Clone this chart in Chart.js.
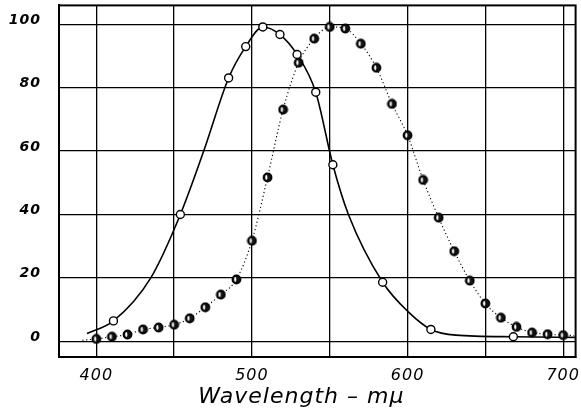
<!DOCTYPE html>
<html>
<head>
<meta charset="utf-8">
<script src="https://cdn.jsdelivr.net/npm/chart.js@4"></script>
<style>
  html, body { margin: 0; padding: 0; background: #fff; }
  #wrap { width: 581px; height: 413px; }
</style>
</head>
<body>
<div id="wrap"><canvas id="luminosity"></canvas></div>
<script>
// scotopic measurements (open circles)
var scot_wl  = [411, 454, 485, 496, 507, 518, 529, 541, 552, 584, 615, 668];
var scot_val = [6.4, 40, 83.1, 93, 99.2, 96.8, 90.5, 78.6, 55.7, 18.6, 3.7, 1.4];
// scotopic drawn curve (solid line)
var scot_curve_wl  = [394, 411, 435, 454, 469, 485, 496, 507, 518, 529, 541, 552, 562, 584, 601, 615, 631, 668, 708];
var scot_curve_val = [2.4, 6.4, 20, 40, 60, 83.1, 93, 99.2, 96.8, 90.5, 78.6, 55.7, 40, 18.6, 9, 3.7, 1.9, 1.4, 1.2];
// photopic curve (dotted line, shaded circles)
var phot_wl  = [391, 400, 410, 420, 430, 440, 450, 460, 470, 480, 490, 500, 510, 520, 530, 540,
                550, 560, 570, 580, 590, 600, 610, 620, 630, 640, 650, 660, 670, 680, 690, 700, 707];
var phot_val = [0.3, 0.7, 1.4, 2.1, 3.7, 4.3, 5.2, 7.2, 10.7, 14.7, 19.5, 31.7, 51.7, 73.1, 87.9, 95.5,
                99.2, 98.7, 93.9, 86.3, 74.9, 65, 50.9, 39, 28.4, 19.1, 11.9, 7.4, 4.5, 2.7, 2.2, 1.9, 1.8];
var x_ticks = [400, 450, 500, 550, 600, 650, 700];
var y_ticks = [0, 20, 40, 60, 80, 100];

function toPoints(xs, ys) {
    let pts = [];
    for (var i in xs) {
        pts.push({x: xs[i], y: ys[i]});
    }
    return pts;
}

// marker for the photopic points: ring with a dark fill and a light streak
function shadedDot() {
    const c = document.createElement('canvas');
    c.width = 11; c.height = 11;
    const g = c.getContext('2d');
    g.beginPath();
    g.arc(5.5, 5.5, 4.2, 0, Math.PI * 2);
    g.fillStyle = '#111';
    g.fill();
    g.beginPath();
    g.ellipse(4.3, 5.5, 1.1, 2.4, 0, 0, Math.PI * 2);
    g.fillStyle = '#fff';
    g.fill();
    g.beginPath();
    g.arc(5.5, 5.5, 4.2, 0, Math.PI * 2);
    g.lineWidth = 1.4;
    g.strokeStyle = '#000';
    g.stroke();
    return c;
}
const shaded = shadedDot();

// hide the marker on the first and last entry (they are only line ends)
function endsHidden(n, r) {
    return function(ctx) {
        return (ctx.dataIndex === 0 || ctx.dataIndex === n - 1) ? 0 : r;
    };
}

const frame = {
    id: 'frame',
    beforeDraw(chart) {
        chart.ctx.letterSpacing = '1px';
    },
    afterDraw(chart) {
        const a = chart.chartArea;
        const ctx = chart.ctx;
        ctx.save();
        ctx.strokeStyle = '#000';
        ctx.lineWidth = 2;
        ctx.strokeRect(a.left, a.top, a.right - a.left, a.bottom - a.top);
        ctx.restore();
    }
};

const ctx = document.getElementById('luminosity');
new Chart(ctx, {
    type: 'line',
    data: {
        datasets: [
            {
                label: 'scotopic markers',
                data: toPoints(scot_wl, scot_val),
                showLine: false,
                pointRadius: 4,
                pointBackgroundColor: '#fff',
                pointBorderColor: '#000',
                pointBorderWidth: 1.4,
                order: 0
            },
            {
                label: 'scotopic',
                data: toPoints(scot_curve_wl, scot_curve_val),
                borderColor: '#000',
                borderWidth: 1.6,
                pointRadius: 0,
                cubicInterpolationMode: 'monotone',
                fill: false,
                order: 2
            },
            {
                label: 'photopic',
                data: toPoints(phot_wl, phot_val),
                borderColor: '#000',
                borderWidth: 1.1,
                borderDash: [1.2, 2.6],
                pointStyle: function(c) {
                    return (c.dataIndex === 0 || c.dataIndex === phot_wl.length - 1) ? 'circle' : shaded;
                },
                pointRadius: endsHidden(phot_wl.length, 4),
                cubicInterpolationMode: 'monotone',
                fill: false,
                order: 1
            }
        ]
    },
    options: {
        responsive: true,
        maintainAspectRatio: false,
        animation: false,
        events: [],
        layout: { padding: { top: 5, right: 3, left: 0, bottom: 0 } },
        plugins: {
            legend: { display: false },
            tooltip: { enabled: false }
        },
        scales: {
            x: {
                type: 'linear',
                min: 376,
                max: 708,
                afterBuildTicks: function(scale) {
                    scale.ticks = x_ticks.map(v => ({value: v}));
                },
                afterFit: function(scale) {
                    scale.height = 56;
                    scale.paddingLeft = 0;
                    scale.paddingRight = 0;
                },
                grid: { color: '#000', lineWidth: 1.3, drawTicks: false },
                border: { color: '#000', width: 2 },
                ticks: {
                    color: '#000',
                    padding: 9,
                    maxRotation: 0,
                    autoSkip: false,
                    font: { family: 'DejaVu Sans', size: 16, style: 'italic' },
                    callback: function(v) { return v % 100 === 0 ? String(v) : ''; }
                },
                title: {
                    display: true,
                    text: 'Wavelength \u2013 m\u03bc    ',
                    color: '#000',
                    padding: { top: 0, bottom: 3 },
                    font: { family: 'DejaVu Sans', size: 22, style: 'italic' }
                }
            },
            y: {
                min: -5,
                max: 106,
                afterBuildTicks: function(scale) {
                    scale.ticks = y_ticks.map(v => ({value: v}));
                },
                afterFit: function(scale) {
                    scale.width = 59;
                    scale.paddingTop = 0;
                    scale.paddingBottom = 0;
                },
                grid: { color: '#000', lineWidth: 1.3, drawTicks: false },
                border: { color: '#000', width: 2 },
                ticks: {
                    color: '#000',
                    padding: 18,
                    labelOffset: -4,
                    font: { family: 'DejaVu Sans', size: 14, style: 'italic', weight: 'bold' }
                }
            }
        }
    },
    plugins: [frame]
});
</script>
</body>
</html>
